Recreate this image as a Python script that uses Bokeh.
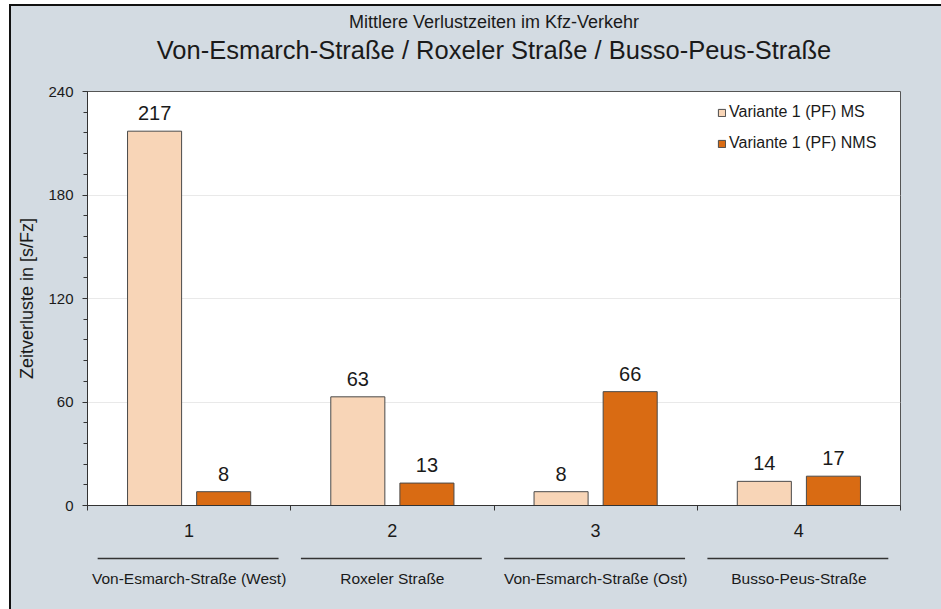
import numpy as np
from bokeh.plotting import figure
from bokeh.layouts import column
from bokeh.models import ColumnDataSource, FixedTicker, Range1d, Title, Legend, LegendItem
from bokeh.core.properties import value
from bokeh.embed import file_html
from bokeh.resources import INLINE

# --- data -------------------------------------------------------------
sites = ["1", "2", "3", "4"]
site_names = ["Von-Esmarch-Straße (West)", "Roxeler Straße",
              "Von-Esmarch-Straße (Ost)", "Busso-Peus-Straße"]
delay_ms = [217, 63, 8, 14]      # Variante 1 (PF) MS
delay_nms = [8, 13, 66, 17]      # Variante 1 (PF) NMS
series_names = ["Variante 1 (PF) MS", "Variante 1 (PF) NMS"]
y_major_ticks = [0, 60, 120, 180, 240]
y_minor_ticks = [0, 12, 24, 36, 48, 60, 72, 84, 96, 108, 120, 132, 144, 156,
                 168, 180, 192, 204, 216, 228, 240]
title_top = "Mittlere Verlustzeiten im Kfz-Verkehr"
title_main = "Von-Esmarch-Straße / Roxeler Straße / Busso-Peus-Straße"
y_label = "Zeitverluste in [s/Fz]"

# --- styling ----------------------------------------------------------
FONT = "Liberation Sans"
BG = "#d3dbe2"
PINK = "#f8d5b7"
ORANGE = "#d96b13"
EDGE = "#4a4a4a"
INK = "#1a1a1a"

n = len(sites)
slot = np.arange(n) + 0.5          # centre of each site group on the x scale
BAR_W = 0.266
DODGE = 0.17

src = ColumnDataSource(dict(
    x_ms=slot - DODGE, x_nms=slot + DODGE,
    ms=delay_ms, nms=delay_nms,
    ms_txt=[str(v) for v in delay_ms], nms_txt=[str(v) for v in delay_nms],
))

# --- main chart -------------------------------------------------------
p = figure(width=930, height=507, x_range=Range1d(0, n), y_range=Range1d(0, 240),
           output_backend="svg", toolbar_location=None,
           min_border_left=76, min_border_right=41, min_border_top=85, min_border_bottom=8,
           background_fill_color="white", border_fill_color=BG,
           outline_line_color="#555555", outline_line_width=1)

# heading stack above the frame (first added sits nearest the frame):
# an empty gap, then the street names, then the small line on top
p.title.text = title_top
p.title.align = "center"
p.title.text_font = FONT
p.title.text_font_size = "18px"
p.title.text_font_style = "normal"
p.title.text_color = INK
p.title.standoff = 2
p.add_layout(Title(text=" ", text_font_size="1px", standoff=24), "above")
p.add_layout(Title(text=title_main, align="center",
                   text_font=FONT, text_font_size="25.5px",
                   text_font_style="normal", text_color=INK, standoff=2), "above")

p.xgrid.visible = False
p.ygrid.ticker = FixedTicker(ticks=[60, 120, 180])
p.ygrid.grid_line_color = "#e9e9e9"

xa = p.xaxis[0]
xa.ticker = FixedTicker(ticks=list(range(n + 1)))
xa.major_label_overrides = {i: "" for i in range(n + 1)}
xa.major_label_text_font_size = "1px"
xa.major_label_standoff = 0
xa.major_tick_in = 0
xa.major_tick_out = 5
xa.minor_tick_line_color = None
xa.axis_line_color = "#333333"
xa.major_tick_line_color = "#333333"

ya = p.yaxis[0]
ya.ticker = FixedTicker(ticks=y_major_ticks, minor_ticks=y_minor_ticks)
ya.axis_label = y_label
ya.axis_label_text_font = FONT
ya.axis_label_text_font_size = "18px"
ya.axis_label_text_font_style = "normal"
ya.axis_label_text_color = INK
ya.axis_label_standoff = 8
ya.major_label_text_font = FONT
ya.major_label_text_font_size = "15px"
ya.major_label_text_color = INK
ya.major_label_standoff = 9
ya.major_tick_in = 0
ya.major_tick_out = 5
ya.minor_tick_in = 0
ya.minor_tick_out = 4
ya.axis_line_color = "#333333"
ya.major_tick_line_color = "#333333"
ya.minor_tick_line_color = "#333333"

r_ms = p.vbar(x="x_ms", top="ms", width=BAR_W, source=src,
              fill_color=PINK, line_color=EDGE, line_width=1)
r_nms = p.vbar(x="x_nms", top="nms", width=BAR_W, source=src,
               fill_color=ORANGE, line_color=EDGE, line_width=1)

for xcol, ycol, tcol in (("x_ms", "ms", "ms_txt"), ("x_nms", "nms", "nms_txt")):
    p.text(x=xcol, y=ycol, text=tcol, source=src, text_align="center",
           text_baseline="alphabetic", y_offset=-18, text_font=value(FONT),
           text_font_size="20px", text_color=INK)

legend = Legend(items=[LegendItem(label=series_names[0], renderers=[r_ms]),
                       LegendItem(label=series_names[1], renderers=[r_nms])],
                location=(630, 353), glyph_width=9, glyph_height=9, label_standoff=3,
                spacing=13, padding=8, label_height=18, margin=0,
                border_line_color=None, background_fill_alpha=0,
                label_text_font=FONT, label_text_font_size="16px", label_text_color=INK)
p.add_layout(legend)

# --- site captions under the x axis ------------------------------------
NUM_Y, RULE_Y, NAME_Y = 0.823, 0.531, 0.323
q = figure(width=930, height=96, x_range=p.x_range, y_range=Range1d(0, 1),
           output_backend="svg", toolbar_location=None,
           min_border=0, min_border_left=76, min_border_right=41,
           background_fill_color=None, border_fill_color=None, outline_line_color=None)
q.axis.visible = False
q.grid.visible = False
q.text(x=slot, y=[NUM_Y] * n, text=sites, text_align="center", text_baseline="middle",
       text_font=value(FONT), text_font_size="18px", text_color=INK)
q.segment(x0=slot - 0.45, x1=slot + 0.44, y0=[RULE_Y] * n, y1=[RULE_Y] * n,
          line_color="#333333", line_width=1.5)
q.text(x=slot, y=[NAME_Y] * n, text=site_names, text_align="center", text_baseline="middle",
       text_font=value(FONT), text_font_size="15.5px", text_color=INK)

layout = column(p, q, spacing=0, margin=(4, 0, 0, 9),
                styles={"border-left": "2px solid #111111", "border-top": "2px solid #111111",
                        "background-color": BG})

open("out.html", "w").write(file_html(layout, INLINE))
